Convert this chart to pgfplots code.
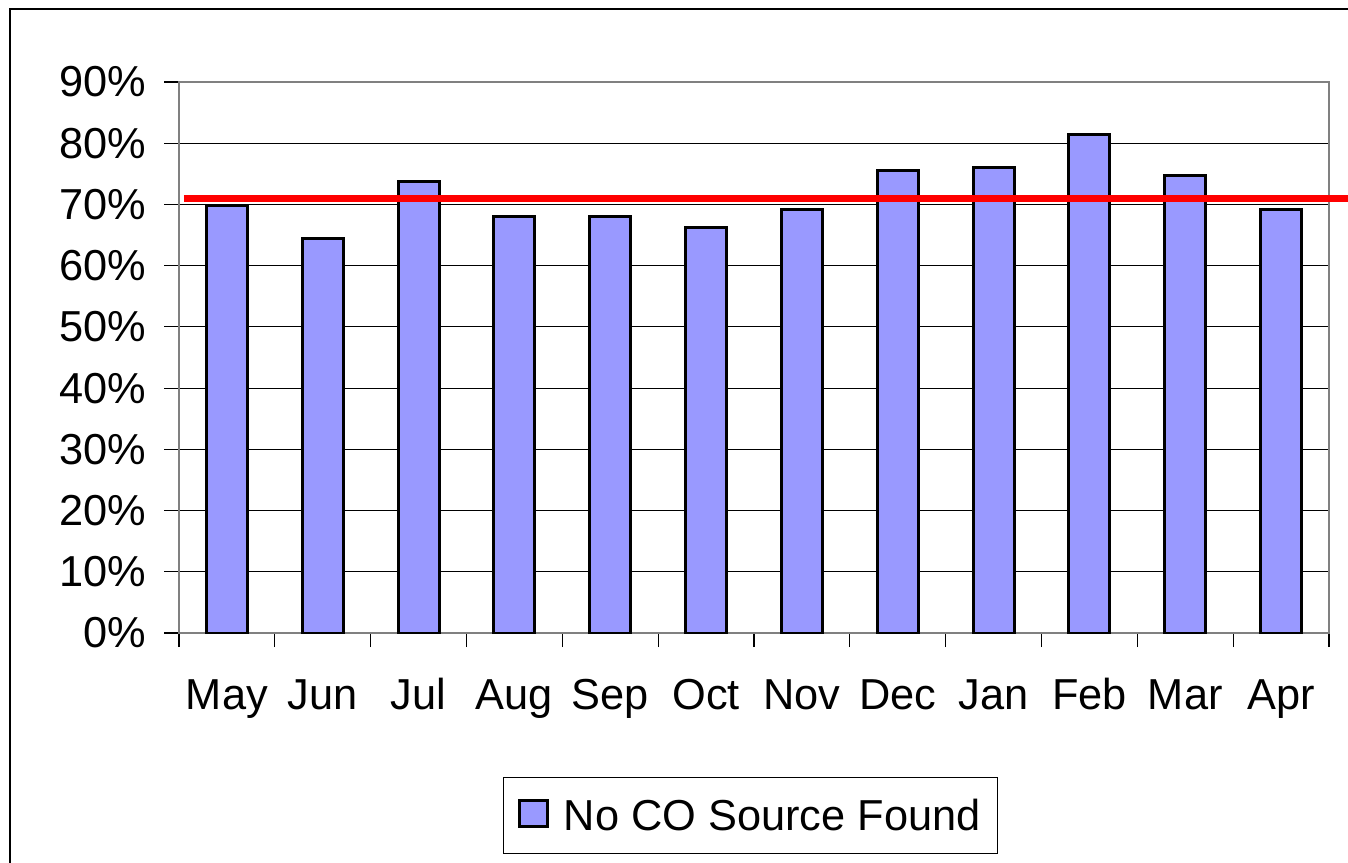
\documentclass[border=0pt]{standalone}
\usepackage{pgfplots}
\pgfplotsset{compat=1.18}
\usepackage{fontspec}
\setmainfont{Liberation Sans}
\definecolor{barblue}{HTML}{9999FF}
\definecolor{axgray}{HTML}{808080}
\begin{document}
\begin{tikzpicture}[x=1pt,y=1pt]
\useasboundingbox (0,0) rectangle (1011,647.25);
\fill[white] (0,0) rectangle (1011,647.25);
\draw[black,line width=1.5pt] (7.5,0) -- (7.5,640.5) -- (1011,640.5);
\begin{axis}[
  at={(134.25pt,172.5pt)}, anchor=south west,
  scale only axis, width=862.5pt, height=413.25pt,
  xmin=-0.5, xmax=11.5, ymin=0, ymax=90,
  clip=false,
  axis line style={axgray,line width=2pt},
  xtick={0,...,11},
  xticklabels={May,Jun,Jul,Aug,Sep,Oct,Nov,Dec,Jan,Feb,Mar,Apr},
  minor xtick={-0.5,0.5,...,11.5},
  ytick={0,10,...,90},
  yticklabel={\pgfmathprintnumber{\tick}\%},
  /pgf/number format/assume math mode=true,
  tick align=outside,
  xtick pos=bottom, ytick pos=left,
  major x tick style={draw=none},
  minor x tick style={black,line width=0.8pt},
  minor tick length=10.5pt,
  major y tick style={black,line width=0.8pt},
  major tick length=11.25pt,
  ymajorgrids, major grid style={black,line width=0.9pt},
  ticklabel style={font=\fontsize{32.5}{38}\selectfont},
  yticklabel style={xshift=-10pt},
  xticklabel style={anchor=base, yshift=-45.75pt},
  legend style={at={(axis description cs:0.497,-0.332)}, anchor=center,
    draw=black, line width=0.8pt, font=\fontsize{32.5}{38}\selectfont,
    inner xsep=11pt, inner ysep=14pt},
  legend cell align=left,
]
\addplot[ybar, bar width=30.75pt, fill=barblue, draw=black, line width=2.2pt,
  legend image code/.code={\draw[fill=barblue,draw=black,line width=2.4pt] (0pt,-8pt) rectangle (21pt,11.5pt);}]
  coordinates {(0,69.8) (1,64.5) (2,73.7) (3,68.1) (4,68.1) (5,66.3) (6,69.1) (7,75.5) (8,76.1) (9,81.4) (10,74.8) (11,69.1)};
\addlegendentry{\rule{0pt}{0pt}\kern9pt No CO Source Found}
\addplot[red, line width=5.25pt, forget plot] coordinates {(-0.45,70.9) (11.7,70.9)};
\end{axis}
\end{tikzpicture}
\end{document}
